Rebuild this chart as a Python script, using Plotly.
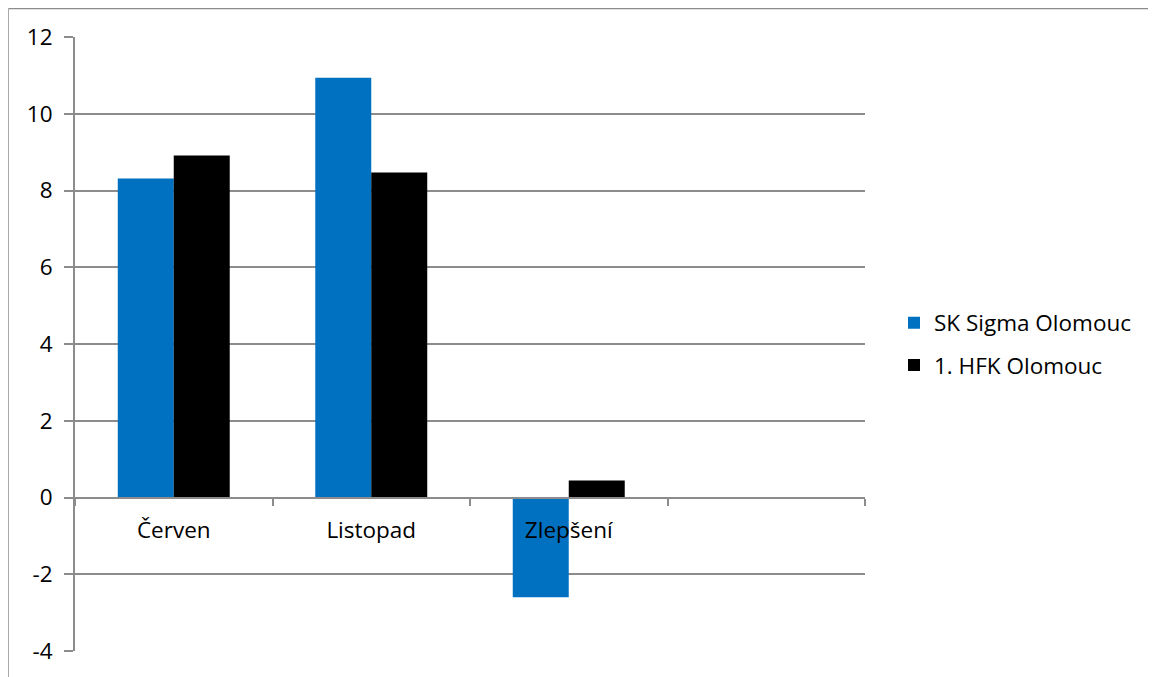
import plotly.graph_objects as go

categories = ["Červen", "Listopad", "Zlepšení", " "]
sigma = [8.31, 10.94, -2.6, None]
hfk = [8.91, 8.47, 0.44, None]
series_names = ["SK Sigma Olomouc", "1. HFK Olomouc"]
y_ticks = [-4, -2, 0, 2, 4, 6, 8, 10, 12]

# page body has an 8px margin, so figure coords = screen coords - 8
W, H = 1148, 669
L, R, T, B = 67, 291, 29, 26
pw, ph = W - L - R, H - T - B

FONT = "Open Sans, Noto Sans, sans-serif"
GRID = "#8c8c8c"

fig = go.Figure()
fig.add_trace(go.Bar(x=categories, y=sigma, name=series_names[0],
                     marker=dict(color="#0070C0", line=dict(width=0)),
                     legendgroup="a"))
fig.add_trace(go.Bar(x=categories, y=hfk, name=series_names[1],
                     marker=dict(color="#000000", line=dict(width=0)),
                     legendgroup="b"))

ymin, ymax = -4, 12
zero_pos = (0 - ymin) / (ymax - ymin)

fig.update_layout(
    width=W, height=H,
    margin=dict(l=L, r=R, t=T, b=B),
    paper_bgcolor="white", plot_bgcolor="white",
    barmode="group", bargap=0.433, bargroupgap=0,
    font=dict(family=FONT, size=22, color="#000000"),
    showlegend=True,
    legend=dict(x=(886 - L) / pw, y=0.5, xanchor="left", yanchor="middle",
                font=dict(size=22.5, family=FONT), tracegroupgap=10,
                itemwidth=30, bgcolor="rgba(0,0,0,0)"),
    xaxis=dict(
        anchor="free", position=zero_pos,
        showline=True, linecolor=GRID, linewidth=2,
        ticks="outside", tickson="boundaries", ticklen=7, tickcolor=GRID, tickwidth=2,
        showgrid=False, layer="above traces",
        tickfont=dict(size=22.5, family=FONT), ticklabelstandoff=12,
    ),
    yaxis=dict(
        range=[ymin, ymax], tickvals=y_ticks, ticktext=[str(v) for v in y_ticks],
        showline=True, linecolor=GRID, linewidth=2,
        ticks="outside", ticklen=9, tickcolor=GRID, tickwidth=2,
        showgrid=True, gridcolor=GRID, gridwidth=2,
        zeroline=False, layer="below traces",
        tickfont=dict(size=22.5, family=FONT), ticklabelstandoff=7,
    ),
    shapes=[
        dict(type="line", xref="paper", yref="paper",
             x0=(0.5 - L) / pw, x1=(W + 5 - L) / pw,
             y0=1 + (T - 0.5) / ph, y1=1 + (T - 0.5) / ph,
             line=dict(color="#8c8c8c", width=1.5)),
        dict(type="line", xref="paper", yref="paper",
             x0=(0.0 - L) / pw, x1=(0.0 - L) / pw,
             y0=1 + (T - 0.5) / ph, y1=-(B + 5) / ph,
             line=dict(color="#8c8c8c", width=1.5)),
    ],
)

fig.write_html("out.html")
